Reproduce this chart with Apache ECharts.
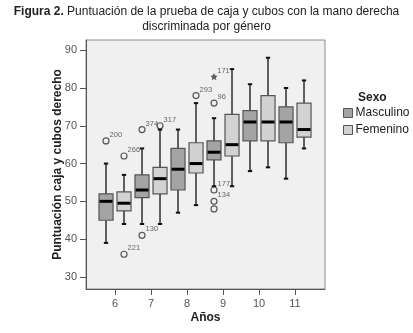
<!DOCTYPE html>
<html>
<head>
<meta charset="utf-8">
<script src="https://cdn.jsdelivr.net/npm/echarts@6/dist/echarts.min.js"></script>
<style>
  html, body { margin: 0; padding: 0; background: #fff; }
  #chart { width: 413px; height: 333px; }
</style>
</head>
<body>
<div id="chart"></div>
<script>
  // Años
  var years = [6, 7, 8, 9, 10, 11];

  // Masculino: min, Q1, mediana, Q3, max
  var maleMin = [39, 44, 47, 54, 58, 56];
  var maleQ1 = [45, 51, 53, 61, 66, 65.5];
  var maleMed = [50, 53, 58.5, 63, 71, 71];
  var maleQ3 = [52, 57, 64, 66, 74, 75];
  var maleMax = [60, 64, 69, 72, 81, 80];

  // Femenino
  var femMin = [44, 44, 49, 54, 59, 64];
  var femQ1 = [47.5, 52, 57.5, 62, 66, 67];
  var femMed = [49.5, 56, 60, 65, 71, 69];
  var femQ3 = [52.5, 59, 65.5, 73, 78, 76];
  var femMax = [57, 69, 76, 85, 88, 82];

  // valores atípicos
  var outYear = [6, 6, 6, 7, 7, 7, 8, 9, 9, 9, 9, 9];
  var outSex = ['M', 'F', 'F', 'M', 'M', 'F', 'F', 'M', 'M', 'M', 'M', 'M'];
  var outValue = [66, 62, 36, 69, 41, 70, 78, 83, 76, 53, 50, 48];
  var outId = ['200', '266', '221', '374', '130', '317', '293', '171', '96', '177', '134', ''];
  var outExtreme = ['171'];

  var yTicks = [30, 40, 50, 60, 70, 80, 90];

  var OFFSET = 0.25, BOX_W = 0.39, CAP_W = 0.12;
  var maleColor = '#a4a4a4', femColor = '#d2d2d2';
  var FONT = 'Liberation Sans';

  function boxData(mn, q1, md, q3, mx) {
    return years.map(function (y, i) { return [y, mn[i], q1[i], md[i], q3[i], mx[i]]; });
  }

  function boxRender(offset, color) {
    return function (params, api) {
      var yr = api.value(0) + offset;
      var lo = api.coord([yr, api.value(1)]);
      var q1 = api.coord([yr, api.value(2)]);
      var md = api.coord([yr, api.value(3)]);
      var q3 = api.coord([yr, api.value(4)]);
      var hi = api.coord([yr, api.value(5)]);
      var w = api.size([BOX_W, 0])[0];
      var c = api.size([CAP_W, 0])[0];
      var x = lo[0];
      var ln = { stroke: '#111', lineWidth: 1.3 };
      return {
        type: 'group',
        children: [
          { type: 'line', shape: { x1: x, y1: hi[1], x2: x, y2: q3[1] }, style: ln },
          { type: 'line', shape: { x1: x, y1: q1[1], x2: x, y2: lo[1] }, style: ln },
          { type: 'line', shape: { x1: x - c / 2, y1: hi[1], x2: x + c / 2, y2: hi[1] }, style: { stroke: '#111', lineWidth: 2 } },
          { type: 'line', shape: { x1: x - c / 2, y1: lo[1], x2: x + c / 2, y2: lo[1] }, style: { stroke: '#111', lineWidth: 2 } },
          { type: 'rect', shape: { x: x - w / 2, y: q3[1], width: w, height: q1[1] - q3[1] },
            style: { fill: color, stroke: '#555', lineWidth: 1.2 } },
          { type: 'line', shape: { x1: x - w / 2 + 0.6, y1: md[1], x2: x + w / 2 - 0.6, y2: md[1] },
            style: { stroke: '#000', lineWidth: 3 } }
        ]
      };
    };
  }

  var outliers = outYear.map(function (y, i) {
    var extreme = outExtreme.indexOf(outId[i]) >= 0;
    return {
      value: [y + (outSex[i] === 'M' ? -OFFSET : OFFSET), outValue[i]],
      name: outId[i],
      symbol: extreme ? 'path://M0,-10L2.9,-4L9.5,-3.1L4.7,1.5L5.9,8.1L0,5L-5.9,8.1L-4.7,1.5L-9.5,-3.1L-2.9,-4Z' : 'circle',
      symbolSize: 6,
      itemStyle: extreme ? { color: '#333', borderColor: '#333', borderWidth: 0.5 } : {}
    };
  });

  var chart = echarts.init(document.getElementById('chart'));
  chart.setOption({
    animation: false,
    backgroundColor: '#fff',
    title: [
      {
        text: '{b|Figura 2.} Puntuación de la prueba de caja y cubos con la mano derecha',
        left: 'center', top: 6, padding: 0,
        textStyle: {
          fontFamily: FONT, fontSize: 12, fontWeight: 'normal', color: '#222',
          rich: { b: { fontFamily: FONT, fontSize: 12, fontWeight: 'bold', color: '#222' } }
        }
      },
      {
        text: 'discriminada por género',
        left: 'center', top: 21, padding: 0,
        textStyle: { fontFamily: FONT, fontSize: 12, fontWeight: 'normal', color: '#222' }
      },
      {
        text: 'Sexo',
        left: 358, top: 92, padding: 0,
        textStyle: { fontFamily: FONT, fontSize: 12, fontWeight: 'bold', color: '#222' }
      }
    ],
    legend: {
      orient: 'vertical',
      left: 343, top: 107, padding: 0,
      itemWidth: 9, itemHeight: 9, itemGap: 5,
      icon: 'rect',
      itemStyle: { borderColor: '#555', borderWidth: 1 },
      textStyle: { fontFamily: FONT, fontSize: 12, color: '#222', padding: [0, 0, 0, -2] },
      data: ['Masculino', 'Femenino']
    },
    grid: {
      left: 86, right: 88, top: 40, bottom: 44,
      show: true, backgroundColor: '#f0f0f0', borderColor: '#8a8a8a', borderWidth: 1
    },
    xAxis: {
      type: 'value',
      min: 5.194, max: 11.833,
      name: 'Años', nameLocation: 'middle', nameGap: 23, nameMoveOverlap: false,
      nameTextStyle: { fontFamily: FONT, fontSize: 12, fontWeight: 'bold', color: '#222' },
      splitLine: { show: false },
      axisLine: { show: true, lineStyle: { color: '#555', width: 1 } },
      axisTick: { show: true, length: 6, lineStyle: { color: '#555' }, customValues: years },
      axisLabel: { fontFamily: FONT, fontSize: 11, color: '#555', margin: 9, customValues: years }
    },
    yAxis: {
      type: 'value',
      min: 26.8, max: 92.7,
      name: 'Puntuación caja y cubos derecho', nameLocation: 'middle', nameGap: 22, nameMoveOverlap: false,
      nameTextStyle: { fontFamily: FONT, fontSize: 12, fontWeight: 'bold', color: '#222' },
      splitLine: { show: false },
      axisLine: { show: true, lineStyle: { color: '#555', width: 1 } },
      axisTick: { show: true, length: 6, lineStyle: { color: '#555' }, customValues: yTicks },
      axisLabel: { fontFamily: FONT, fontSize: 11, color: '#555', margin: 9, customValues: yTicks }
    },
    series: [
      {
        name: 'Masculino', type: 'custom',
        itemStyle: { color: maleColor },
        renderItem: boxRender(-OFFSET, maleColor),
        encode: { x: 0, y: [1, 2, 3, 4, 5] },
        data: boxData(maleMin, maleQ1, maleMed, maleQ3, maleMax)
      },
      {
        name: 'Femenino', type: 'custom',
        itemStyle: { color: femColor },
        renderItem: boxRender(OFFSET, femColor),
        encode: { x: 0, y: [1, 2, 3, 4, 5] },
        data: boxData(femMin, femQ1, femMed, femQ3, femMax)
      },
      {
        name: 'atipicos', type: 'scatter',
        itemStyle: { color: 'transparent', borderColor: '#333', borderWidth: 1.2 },
        label: {
          show: true, position: 'right', distance: 0, offset: [0, -6],
          formatter: function (p) { return p.name; },
          fontFamily: FONT, fontSize: 7.5, color: '#444'
        },
        data: outliers,
        z: 5
      }
    ]
  });
</script>
</body>
</html>
